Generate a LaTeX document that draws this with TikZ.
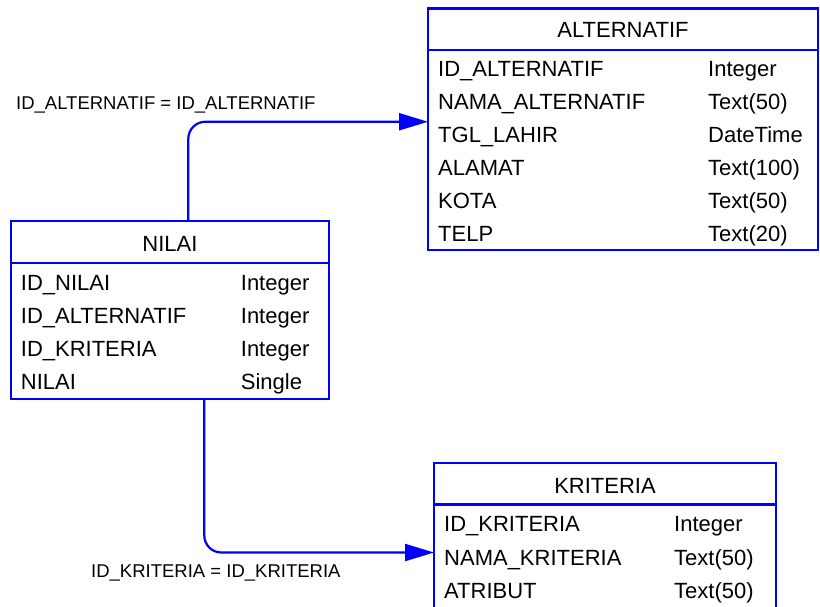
\documentclass[tikz,border=0pt]{standalone}
\usepackage{fontspec}
\setmainfont{Liberation Sans}
\usetikzlibrary{arrows.meta}
\definecolor{erblue}{RGB}{0,0,255}
\tikzset{
  tbl/.style={draw=erblue, line width=2.2pt, rectangle, inner sep=0pt, outer sep=0pt},
  sep/.style={draw=erblue, line width=2.2pt},
  ttl/.style={anchor=base, inner sep=0pt, font=\fontsize{22}{26}\selectfont},
  fld/.style={anchor=base west, inner sep=0pt, font=\fontsize{22}{26}\selectfont},
  rel/.style={draw=erblue, line width=2.2pt, rounded corners=17pt,
    -{Triangle[length=29pt,width=17pt]}},
  rlbl/.style={anchor=base west, inner sep=0pt, font=\fontsize{18.5}{22}\selectfont},
}
\begin{document}
\begin{tikzpicture}[x=1pt, y=-1pt]
\useasboundingbox (0,0) rectangle (820,606);
\fill[white] (0,0) rectangle (820,606);
\clip (0,0) rectangle (820,606);

% ALTERNATIF table
\node[tbl, minimum width=390pt, minimum height=241.5pt] (alt) at (623,129.25) {};
\draw[sep] (alt.west |- 0,50) -- (alt.east |- 0,50);
\node[ttl] (altT) at (623,37.3) {ALTERNATIF};
\node[fld] (a1n) at (438,76)    {ID\_ALTERNATIF};
\node[fld] (a1t) at (708,76)    {Integer};
\node[fld] (a2n) at (438,109.3) {NAMA\_ALTERNATIF};
\node[fld] (a2t) at (708,109.3) {Text(50)};
\node[fld] (a3n) at (438,142.3) {TGL\_LAHIR};
\node[fld] (a3t) at (708,142.3) {DateTime};
\node[fld] (a4n) at (438,175.4) {ALAMAT};
\node[fld] (a4t) at (708,175.4) {Text(100)};
\node[fld] (a5n) at (438,208.5) {KOTA};
\node[fld] (a5t) at (708,208.5) {Text(50)};
\node[fld] (a6n) at (438,241.6) {TELP};
\node[fld] (a6t) at (708,241.6) {Text(20)};

% NILAI table
\node[tbl, minimum width=318pt, minimum height=178pt] (nil) at (170,310) {};
\draw[sep] (nil.west |- 0,263) -- (nil.east |- 0,263);
\node[ttl] (nilT) at (170,251.7) {NILAI};
\node[fld] (n1n) at (20.7,290) {ID\_NILAI};
\node[fld] (n1t) at (240.7,290) {Integer};
\node[fld] (n2n) at (20.7,323) {ID\_ALTERNATIF};
\node[fld] (n2t) at (240.7,323) {Integer};
\node[fld] (n3n) at (20.7,356) {ID\_KRITERIA};
\node[fld] (n3t) at (240.7,356) {Integer};
\node[fld] (n4n) at (20.7,389) {NILAI};
\node[fld] (n4t) at (240.7,389) {Single};

% KRITERIA table (continues below the page edge)
\node[tbl, minimum width=342pt, minimum height=179pt] (krt) at (605,552.5) {};
\draw[sep] (krt.west |- 0,504.5) -- (krt.east |- 0,504.5);
\node[ttl] (krtT) at (605,493) {KRITERIA};
\node[fld] (k1n) at (444,531.7) {ID\_KRITERIA};
\node[fld] (k1t) at (674,531.7) {Integer};
\node[fld] (k2n) at (444,565)   {NAMA\_KRITERIA};
\node[fld] (k2t) at (674,565)   {Text(50)};
\node[fld] (k3n) at (444,598.3) {ATRIBUT};
\node[fld] (k3t) at (674,598.3) {Text(50)};

% relationships
\draw[rel] ([xshift=177.3pt]nil.north west) |- ([yshift=7.5pt]alt.west);
\node[rlbl] (lblA) at (16,109.3) {ID\_ALTERNATIF = ID\_ALTERNATIF};

\draw[rel] ([xshift=193.3pt]nil.south west) |- (krt.west);
\node[rlbl] (lblK) at (91,577) {ID\_KRITERIA = ID\_KRITERIA};
\end{tikzpicture}
\end{document}
